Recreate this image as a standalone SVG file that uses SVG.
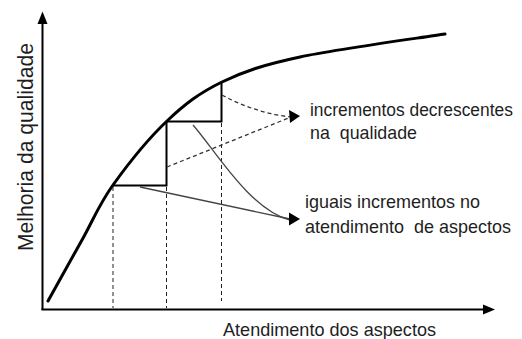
<svg xmlns="http://www.w3.org/2000/svg" width="522" height="339" viewBox="0 0 522 339">
<style>
  .lbl { font-family: "Liberation Sans", Arial, sans-serif; font-size: 19px; fill: #1e1e1e; }
  .axis { stroke: #000; stroke-width: 2; fill: none; }
  .curve { stroke: #000; stroke-width: 3; fill: none; stroke-linecap: round; }
  .step { stroke: #000; stroke-width: 2; fill: none; }
  .guide { stroke: #222; stroke-width: 1; fill: none; stroke-dasharray: 4 3; }
  .dash { stroke: #333; stroke-width: 1.3; fill: none; stroke-dasharray: 4 3; }
  .thin { stroke: #444; stroke-width: 1.3; fill: none; }
  .head { fill: #000; }
</style>
<g id="axes">
  <line class="axis" x1="42.5" y1="310" x2="42.5" y2="22"/>
  <polygon class="head" points="42.5,11.5 37.5,24 47.5,24"/>
  <line class="axis" x1="41.5" y1="309.5" x2="485" y2="309.5"/>
  <polygon class="head" points="495,309.5 483,304.5 483,314.5"/>
</g>
<g id="curve">
  <path class="curve" d="M48,301 C53.7,290.8 71.2,259.3 82,240 C92.8,220.7 98.8,204.8 113,185 C127.2,165.2 148.8,138.2 167,121 C185.2,103.8 199.8,92.7 222,82 C244.2,71.3 262.8,65 300,57 C337.2,49 420.8,37.8 445,34"/>
</g>
<g id="steps">
  <polyline class="step" points="113,185.5 166.5,185.5 166.5,121.5"/>
  <polyline class="step" points="166.5,121.5 221.5,121.5 221.5,82"/>
</g>
<g id="guides">
  <line class="guide" x1="113" y1="187" x2="113" y2="308"/>
  <line class="guide" x1="166.5" y1="187" x2="166.5" y2="308"/>
  <line class="guide" x1="221.5" y1="123" x2="221.5" y2="301"/>
</g>
<g id="connectors">
  <path class="dash" d="M222,95 Q255,113 291,117"/>
  <line class="dash" x1="167" y1="167" x2="291" y2="117"/>
  <polygon class="head" points="300,116 289,110 290,123"/>
  <line class="thin" x1="140" y1="187" x2="290" y2="219"/>
  <path class="thin" d="M193,125 C215,150 250,210 290,220"/>
  <polygon class="head" points="300,219 289,212.5 289,225.5"/>
</g>
<g id="label-decrescentes">
  <text class="lbl" transform="translate(310,115.5) scale(0.915,1)">incrementos decrescentes</text>
  <text class="lbl" x="310" y="138.5" textLength="107" lengthAdjust="spacingAndGlyphs" xml:space="preserve">na  qualidade</text>
</g>
<g id="label-iguais">
  <text class="lbl" x="305" y="207.5" textLength="175" lengthAdjust="spacingAndGlyphs">iguais incrementos no</text>
  <text class="lbl" x="305" y="233" textLength="206" lengthAdjust="spacingAndGlyphs" xml:space="preserve">atendimento  de aspectos</text>
</g>
<g id="label-x">
  <text class="lbl" x="223" y="336" textLength="213" lengthAdjust="spacingAndGlyphs">Atendimento dos aspectos</text>
</g>
<g id="label-y">
  <text class="lbl" transform="translate(33,251) rotate(-90)" style="font-size:21.5px" textLength="208" lengthAdjust="spacingAndGlyphs">Melhoria da qualidade</text>
</g>
</svg>
